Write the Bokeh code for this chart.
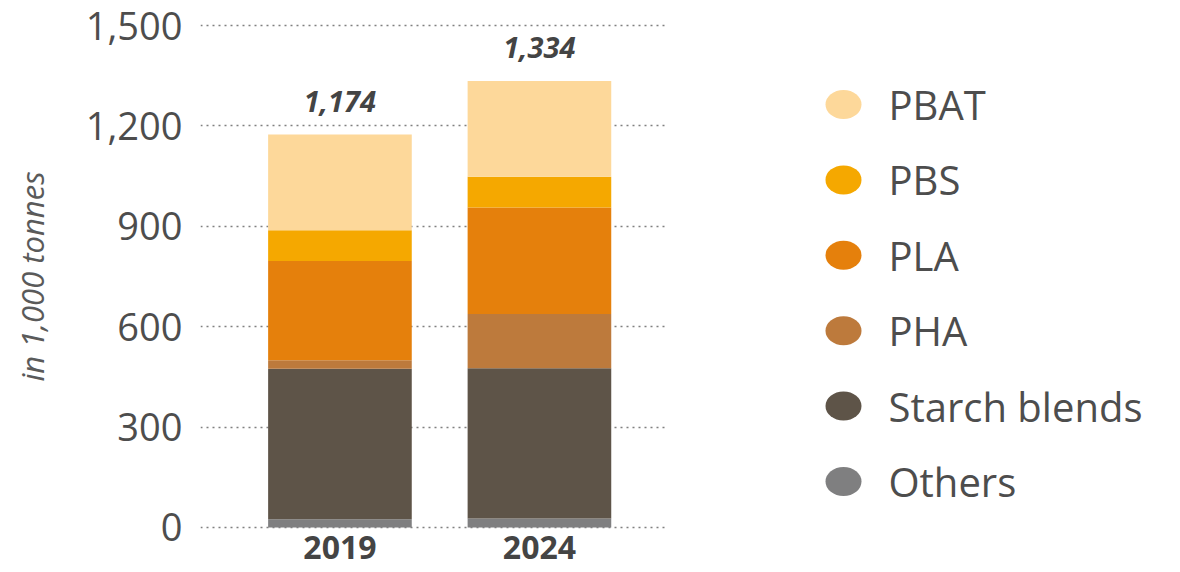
from bokeh.plotting import figure
from bokeh.models import (ColumnDataSource, Range1d, FixedTicker, NumeralTickFormatter,
                          LabelSet)
from bokeh.layouts import row
from bokeh.core.properties import value
from bokeh.embed import file_html
from bokeh.resources import INLINE

years = ["2019", "2024"]
series = ["Others", "Starch blends", "PHA", "PLA", "PBS", "PBAT"]
others = [25, 27]
starch = [449, 449]
pha = [26, 162]
pla = [296, 318]
pbs = [92, 92]
pbat = [286, 286]
totals = [1174, 1334]
total_labels = ["1,174", "1,334"]
y_ticks = [0, 300, 600, 900, 1200, 1500]
colors = ["#7f7f80", "#5e5448", "#bd7a3c", "#e5800c", "#f5a800", "#fdd89a"]

FONT = "Open Sans"
TXT = "#4d4d4d"

xs = list(range(len(years)))
data = dict(x=xs, totals=totals, labels=total_labels)
for name, vals in zip(series, [others, starch, pha, pla, pbs, pbat]):
    data[name] = vals
src = ColumnDataSource(data)

p = figure(width=668, height=572, output_backend="svg", toolbar_location=None,
           x_range=Range1d(-0.699, 1.647), y_range=Range1d(-6, 1506),
           min_border_left=200, min_border_top=23, min_border_bottom=43,
           min_border_right=0)
p.outline_line_color = None

p.vbar_stack(series, x="x", width=0.72, source=src, color=colors, line_color=None)

labels = LabelSet(x="x", y="totals", text="labels", source=src,
                  text_align="center", text_baseline="alphabetic", y_offset=23,
                  text_font=value(FONT), text_font_size="29px",
                  text_font_style="bold italic", text_color="#444444")
p.add_layout(labels)

# axes
p.yaxis.ticker = FixedTicker(ticks=y_ticks)
p.yaxis.formatter = NumeralTickFormatter(format="0,0")
p.yaxis.axis_line_color = None
p.yaxis.major_tick_line_color = None
p.yaxis.minor_tick_line_color = None
p.yaxis.major_label_text_font = FONT
p.yaxis.major_label_text_font_size = "38px"
p.yaxis.major_label_text_color = TXT
p.yaxis.major_label_standoff = 12
p.yaxis.axis_label = "in 1,000 tonnes"
p.yaxis.axis_label_text_font = FONT
p.yaxis.axis_label_text_font_style = "italic"
p.yaxis.axis_label_text_font_size = "31px"
p.yaxis.axis_label_text_color = "#5a5a5a"
p.yaxis.axis_label_standoff = 30

p.xaxis.ticker = FixedTicker(ticks=xs)
p.xaxis.major_label_overrides = {i: y for i, y in zip(xs, years)}
p.xaxis.axis_line_color = None
p.xaxis.major_tick_line_color = None
p.xaxis.minor_tick_line_color = None
p.xaxis.major_label_text_font = FONT
p.xaxis.major_label_text_font_size = "32px"
p.xaxis.major_label_text_font_style = "bold"
p.xaxis.major_label_text_color = "#444444"
p.xaxis.major_label_standoff = 0

p.xgrid.grid_line_color = None
p.ygrid.grid_line_color = "#808080"
p.ygrid.grid_line_dash = "2 4"
p.ygrid.grid_line_width = 1.6
p.ygrid.level = "underlay"

# legend panel (top item = PBAT); its frame is aligned with the chart's frame
leg_names = series[::-1]
leg_colors = colors[::-1]
leg_rows = list(range(len(leg_names)))
leg_src = ColumnDataSource(dict(name=leg_names, color=leg_colors, row=leg_rows,
                                cx=[175] * len(leg_names), tx=[220] * len(leg_names)))
leg = figure(width=512, height=572, output_backend="svg", toolbar_location=None,
             x_range=Range1d(0, 512), y_range=Range1d(5.637, -1.074),
             min_border=0)
leg.axis.visible = False
leg.grid.visible = False
leg.outline_line_color = None
leg.ellipse(x="cx", y="row", width=36, height=29, width_units="screen",
            height_units="screen", fill_color="color", line_color=None, source=leg_src)
leg.text(x="tx", y="row", text="name", source=leg_src, text_baseline="middle",
         text_align="left", text_font=value(FONT), text_font_size="40px",
         text_color=TXT)

layout = row(p, leg, spacing=0)
open("out.html", "w").write(file_html(layout, INLINE))
